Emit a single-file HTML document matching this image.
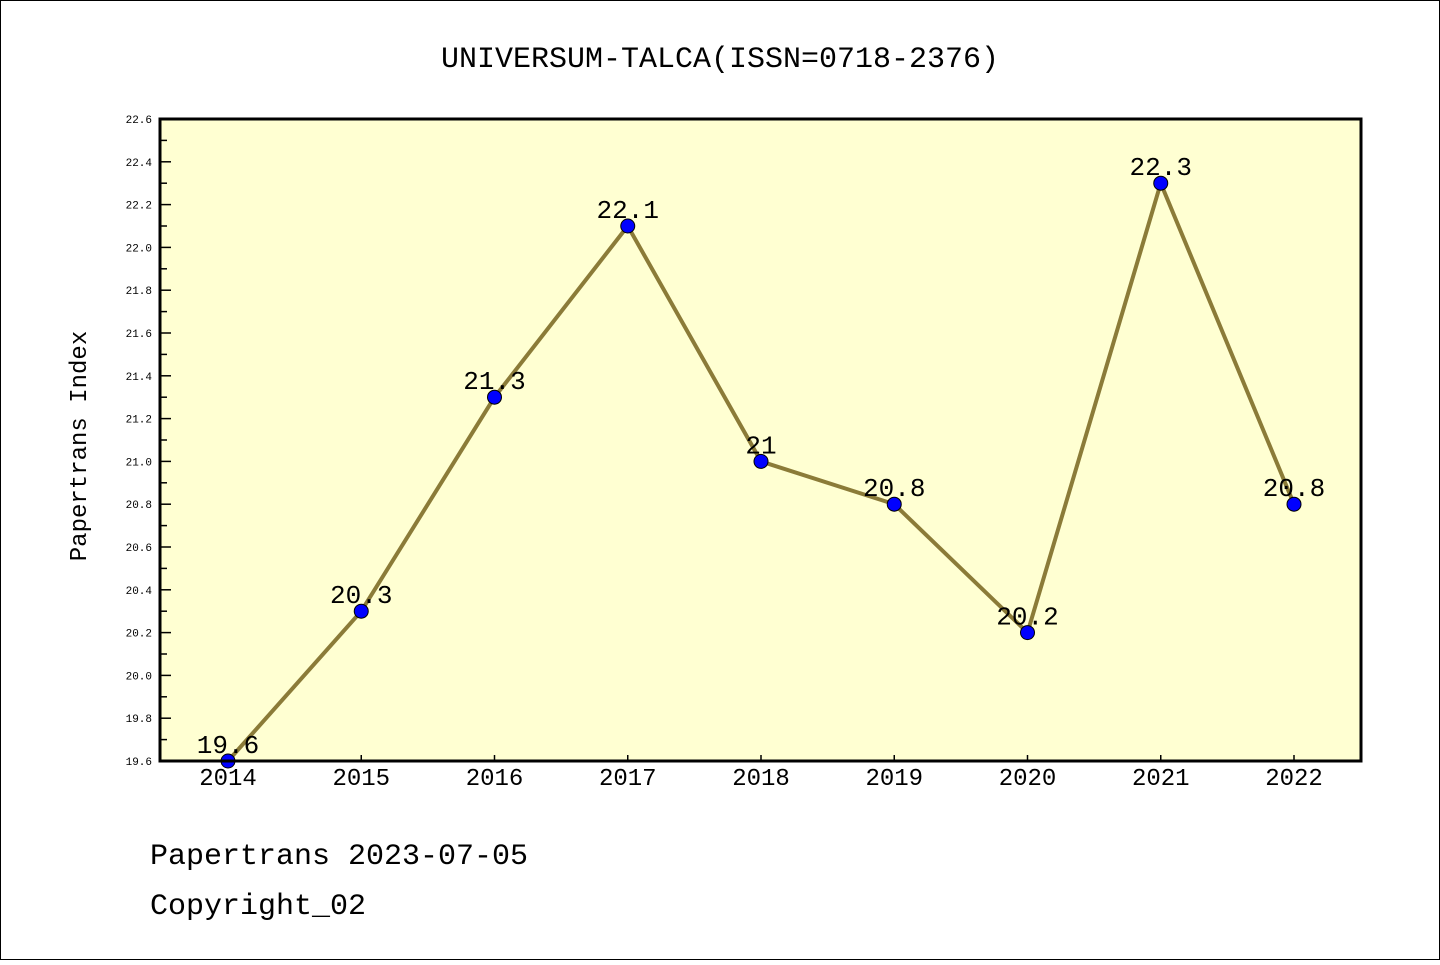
<!DOCTYPE html>
<html><head><meta charset="utf-8"><style>
body{margin:0;background:#fff}
svg text{font-family:"Liberation Mono","DejaVu Sans Mono",monospace}
</style></head><body>
<svg width="1440" height="960" xmlns="http://www.w3.org/2000/svg">
<rect x="0.5" y="0.5" width="1439" height="959" fill="#fff" stroke="#000"/>
<text x="720" y="67" font-size="30" text-anchor="middle">UNIVERSUM-TALCA(ISSN=0718-2376)</text>
<rect x="160" y="119" width="1201" height="642" fill="#ffffd2"/>
<g id="yaxis"></g>
<g id="xaxis"></g>
<g id="series"></g>
<rect x="160" y="119" width="1201" height="642" fill="none" stroke="#000" stroke-width="3"/>
<text x="86" y="446" font-size="24" text-anchor="middle" transform="rotate(-90 86 446)">Papertrans Index</text>
<text x="150" y="864" font-size="30">Papertrans 2023-07-05</text>
<text x="150" y="914" font-size="30">Copyright_02</text>
</svg>
<script>
const years=["2014","2015","2016","2017","2018","2019","2020","2021","2022"];
const values=[19.6,20.3,21.3,22.1,21.0,20.8,20.2,22.3,20.8];
const valueLabels=["19.6","20.3","21.3","22.1","21","20.8","20.2","22.3","20.8"];
const yTicks=["19.6","19.8","20.0","20.2","20.4","20.6","20.8","21.0","21.2","21.4","21.6","21.8","22.0","22.2","22.4","22.6"];
const NS="http://www.w3.org/2000/svg";
const yMin=19.6,yMax=22.6,plotTop=119,plotBot=761;
const xs=i=>228+i*(1294-228)/(years.length-1);
const ys=v=>plotBot-(v-yMin)/(yMax-yMin)*(plotBot-plotTop);
function mk(t,a,p){const e=document.createElementNS(NS,t);for(const k in a)e.setAttribute(k,a[k]);p.appendChild(e);return e;}
const ya=document.getElementById('yaxis'),xa=document.getElementById('xaxis'),se=document.getElementById('series');
yTicks.forEach((t,i)=>{const v=parseFloat(t),yy=ys(v);
 const l=mk('line',{x1:160,x2:171,y1:yy,y2:yy,stroke:'#000','stroke-width':1.5},ya);
 
 
 const tx=mk('text',{x:152,y:yy+4,'font-size':11,'text-anchor':'end'},ya);tx.textContent=t;
 
 
 if(i<yTicks.length-1){const ym=ys(v+0.1);const m=mk('line',{x1:160,x2:167,y1:ym,y2:ym,stroke:'#000','stroke-width':1.5},ya);
 
 }
});
years.forEach((t,i)=>{
 const l=mk('line',{x1:xs(i),x2:xs(i),y1:plotBot,y2:plotBot-6,stroke:'#000','stroke-width':1.5},xa);
 
 
 const tx=mk('text',{x:xs(i),y:785,'font-size':24,'text-anchor':'middle'},xa);tx.textContent=t;
 
 
});
const pl=mk('polyline',{points:values.map((v,i)=>xs(i)+','+ys(v)).join(' '),fill:'none',stroke:'#8b7b38','stroke-width':4},se);


values.forEach((v,i)=>{
 const c=mk('circle',{cx:xs(i),cy:ys(v),r:7,fill:'#0000ff',stroke:'#000','stroke-width':1},se);
 
 
 const tx=mk('text',{x:xs(i),y:ys(v)-8,'font-size':26,'text-anchor':'middle'},se);tx.textContent=valueLabels[i];
 
 
});
</script>
</body></html>
